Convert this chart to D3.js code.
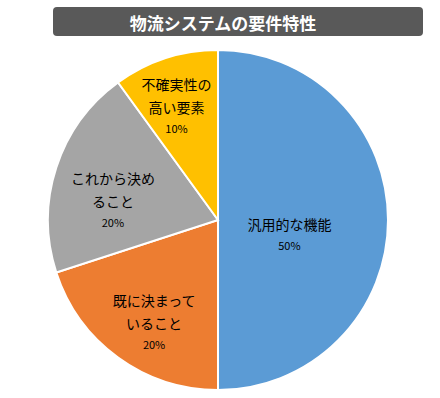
<!DOCTYPE html>
<html>
<head>
<meta charset="utf-8">
<script src="https://cdn.jsdelivr.net/npm/d3@7"></script>
<style>
  body { margin: 0; background: #fff; }
  svg { display: block; font-family: "Noto Sans CJK JP", sans-serif; }
</style>
</head>
<body>
<svg id="chart" width="440" height="398"></svg>
<script>
const title = '物流システムの要件特性';
const categories = ['汎用的な機能', '既に決まっていること', 'これから決めること', '不確実性の高い要素'];
const values = [50, 20, 20, 10];
const labelLines = [['汎用的な機能'], ['既に決まって', 'いること'], ['これから決め', 'ること'], ['不確実性の', '高い要素']];
const colors = ['#5B9BD5', '#ED7D31', '#A5A5A5', '#FFC000'];

const svg = d3.select('#chart');

// タイトルバー
svg.append('rect')
  .attr('x', 53).attr('y', 7).attr('width', 370).attr('height', 29)
  .attr('rx', 4).attr('fill', '#595959');
svg.append('text')
  .attr('x', 223).attr('y', 22)
  .attr('text-anchor', 'middle').attr('dominant-baseline', 'central')
  .attr('fill', '#fff').attr('font-size', 17).attr('font-weight', 'bold')
  .text(title);

const cx = 218, cy = 220, radius = 170;
const g = svg.append('g').attr('transform', `translate(${cx},${cy})`);

const data = categories.map((c, i) => ({ name: c, value: values[i], lines: labelLines[i], color: colors[i] }));
const pie = d3.pie().value(d => d.value).sort(null);
const arcs = pie(data);
const arc = d3.arc().innerRadius(0).outerRadius(radius);

g.selectAll('path')
  .data(arcs)
  .enter()
  .append('path')
  .attr('d', arc)
  .attr('fill', d => d.data.color)
  .attr('stroke', '#fff')
  .attr('stroke-width', 2);

// ラベル位置(半径に対する割合)
const labelR = [0.42, 0.64, 0.65, 0.79];
const lineH = 23;
arcs.forEach((d, i) => {
  const a = (d.startAngle + d.endAngle) / 2;
  const r = radius * labelR[i];
  const x = Math.sin(a) * r;
  const y = -Math.cos(a) * r + 15;
  const lines = d.data.lines;
  const total = lines.length + 1;
  const y0 = y - (total - 1) * lineH / 2;
  const t = g.append('text').attr('text-anchor', 'middle').attr('fill', '#000');
  lines.forEach((ln, j) => {
    t.append('tspan').attr('x', x).attr('y', y0 + j * lineH)
      .attr('dominant-baseline', 'central').attr('font-size', 14).text(ln);
  });
  t.append('tspan').attr('x', x).attr('y', y0 + lines.length * lineH - 2)
    .attr('dominant-baseline', 'central').attr('font-size', 11).text(d.data.value + '%');
});
</script>
</body>
</html>
